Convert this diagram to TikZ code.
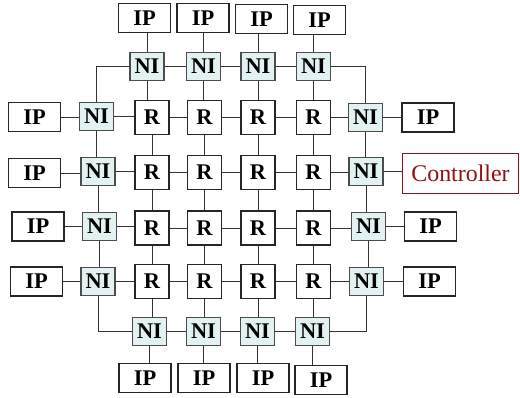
\documentclass[tikz,border=0pt]{standalone}
\usepackage{fontspec}
\setmainfont{Liberation Serif}
\definecolor{nifill}{HTML}{E2F1F1}
\definecolor{ctrlred}{HTML}{8E1212}
\begin{document}
\begin{tikzpicture}[x=1bp,y=-1bp,
  box/.style={draw=black!85, line width=1.2bp, inner sep=0pt, font=\fontsize{22.5}{22.5}\selectfont\bfseries},
  ipbox/.style={box, minimum width=52bp, minimum height=29bp},
  nibox/.style={box, fill=nifill, draw=black!70, minimum width=34bp, minimum height=28bp},
  rbox/.style={box, minimum width=34bp, minimum height=34bp},
  ctrlbox/.style={draw=ctrlred, line width=1.2bp, inner sep=0pt, minimum width=116bp, minimum height=40bp, text=ctrlred, font=\fontsize{24}{24}\selectfont},
  link/.style={line width=1bp, draw=black!80}]
\useasboundingbox (0,0) rectangle (520,397);
% routers
\foreach \c/\x in {1/152,2/204.5,3/258,4/313.5}{
  \foreach \r/\y in {1/117.5,2/172.5,3/228,4/281.5}{
    \node[rbox] (r\r\c) at (\x,\y) {R};
  }
}
% top NIs and IPs
\foreach \c/\x/\ix/\iy in {1/147/144.5/18,2/203.5/203/18,3/258/261.5/19,4/313.5/319.5/20}{
  \node[nibox] (tn\c) at (\x,66.5) {NI};
  \node[ipbox] (tip\c) at (\ix,\iy) {IP};
}
% bottom NIs and IPs
\foreach \c/\x/\ix/\iy in {1/149.5/145/378,2/203.5/204/378,3/257.5/263/378,4/312.5/321/380}{
  \node[nibox] (bn\c) at (\x,331.5) {NI};
  \node[ipbox] (bip\c) at (\ix,\iy) {IP};
}
% left NIs and IPs
\foreach \r/\x/\y/\ix/\iy in {1/96.5/116.5/34.5/117,2/98/171.5/34.5/173,3/99.5/226.5/38/226.5,4/98/281.5/36.5/281.5}{
  \node[nibox] (ln\r) at (\x,\y) {NI};
  \node[ipbox] (lip\r) at (\ix,\iy) {IP};
}
% right NIs
\foreach \r/\x/\y in {1/365.5/117.5,2/366/171.5,3/368.5/226.5,4/366.5/281.5}{
  \node[nibox] (rn\r) at (\x,\y) {NI};
}
\node[ipbox] (rip1) at (428,117.5) {IP};
\node[ctrlbox] (ctrl) at (460.5,173.5) {Controller};
\node[ipbox] (rip3) at (430.5,226.5) {IP};
\node[ipbox] (rip4) at (429.5,281.5) {IP};

% links: IP - NI (top/bottom)
\foreach \c in {1,2,3,4}{
  \draw[link] (tn\c.north) -- (tn\c.north |- tip\c.south);
  \draw[link] (bn\c.south) -- (bn\c.south |- bip\c.north);
  \draw[link] (tn\c.south) -- (tn\c.south |- r1\c.north);
  \draw[link] (r4\c.south) -- (r4\c.south |- bn\c.north);
}
% router vertical links
\foreach \c in {1,2,3,4}{
  \foreach \r/\s in {1/2,2/3,3/4}{
    \draw[link] (r\r\c.south) -- (r\r\c.south |- r\s\c.north);
  }
}
% router horizontal links
\foreach \r in {1,2,3,4}{
  \foreach \c/\d in {1/2,2/3,3/4}{
    \draw[link] (r\r\c.east) -- (r\r\c.east -| r\r\d.west);
  }
  \draw[link] (ln\r.east) -- (ln\r.east -| r\r1.west);
  \draw[link] (r\r4.east) -- (r\r4.east -| rn\r.west);
  \draw[link] (lip\r.east) -- (lip\r.east -| ln\r.west);
}
% right NI to IPs / controller
\draw[link] (rn1.east) -- (rn1.east -| rip1.west);
\draw[link] (rn2.east) -- (rn2.east -| ctrl.west);
\draw[link] (rn3.east) -- (rn3.east -| rip3.west);
\draw[link] (rn4.east) -- (rn4.east -| rip4.west);
% NI ring
\foreach \a/\b in {1/2,2/3,3/4}{
  \draw[link] (tn\a.east) -- (tn\a.east -| tn\b.west);
  \draw[link] (bn\a.east) -- (bn\a.east -| bn\b.west);
  \draw[link] (ln\a.south) -- (ln\a.south |- ln\b.north);
  \draw[link] (rn\a.south) -- (rn\a.south |- rn\b.north);
}
\draw[link] (tn1.west) -| (ln1.north);
\draw[link] (tn4.east) -| (rn1.north);
\draw[link] (ln4.south) |- (bn1.west);
\draw[link] (rn4.south) |- (bn4.east);
\end{tikzpicture}
\end{document}
